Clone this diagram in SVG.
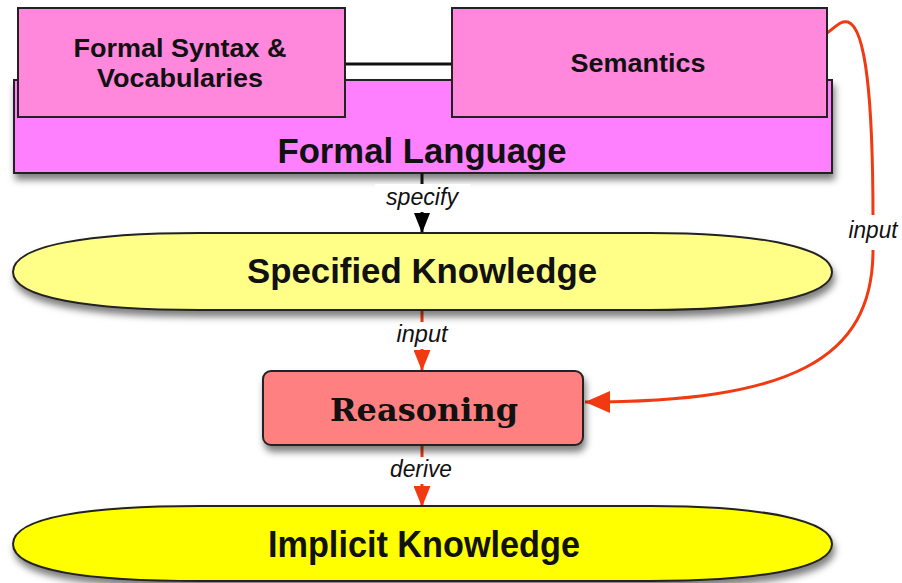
<svg xmlns="http://www.w3.org/2000/svg" width="902" height="583" viewBox="0 0 902 583">
<defs>
<filter id="sh" x="-10%" y="-20%" width="120%" height="160%">
<feDropShadow dx="2" dy="6" stdDeviation="3.5" flood-color="#000" flood-opacity="0.5"/>
</filter>
<marker id="ab" markerWidth="20" markerHeight="16" refX="20" refY="8" orient="auto" markerUnits="userSpaceOnUse" viewBox="0 0 20 16">
<path d="M0,0 L20,8 L0,16 Z" fill="#000"/>
</marker>
<marker id="ar" markerWidth="21" markerHeight="17" refX="21" refY="8.5" orient="auto" markerUnits="userSpaceOnUse" viewBox="0 0 21 17">
<path d="M0,0 L21,8.5 L0,17 Z" fill="#F23A12"/>
</marker>
<marker id="ar2" markerWidth="25" markerHeight="22" refX="25" refY="11" orient="auto" markerUnits="userSpaceOnUse" viewBox="0 0 25 22">
<path d="M0,0 L25,11 L0,22 Z" fill="#F23A12"/>
</marker>
<style>
.t{font-family:"Liberation Sans",Arial,sans-serif;font-weight:bold;fill:#111;text-anchor:middle}
.lbl{font-family:"Liberation Sans",Arial,sans-serif;font-style:italic;font-size:23px;fill:#111;text-anchor:middle}
.box{stroke:#222;stroke-width:2}
.red{stroke:#F23A12;stroke-width:3;fill:none}
</style>
</defs>

<g id="formal-language">
<rect class="box" x="14" y="80" width="818" height="93" fill="#FF80FF" filter="url(#sh)"/>
<text class="t" x="422" y="163" font-size="35" textLength="289" lengthAdjust="spacingAndGlyphs">Formal Language</text>
</g>

<g id="connectors">
<line x1="345" y1="64" x2="452" y2="64" stroke="#111" stroke-width="3"/>
<line x1="422" y1="173" x2="422" y2="233" stroke="#111" stroke-width="3" marker-end="url(#ab)"/>
<rect x="375" y="184" width="95" height="28" fill="#fff"/>
<text class="lbl" x="422" y="205" textLength="72" lengthAdjust="spacingAndGlyphs">specify</text>
<line class="red" x1="422" y1="311" x2="422" y2="371" marker-end="url(#ar)"/>
<rect x="387" y="322" width="73" height="27" fill="#fff"/>
<text class="lbl" x="422" y="342" textLength="51" lengthAdjust="spacingAndGlyphs">input</text>
<line class="red" x1="422" y1="446" x2="422" y2="507" marker-end="url(#ar)"/>
<rect x="380" y="457" width="85" height="27" fill="#fff"/>
<text class="lbl" x="421" y="477" textLength="62" lengthAdjust="spacingAndGlyphs">derive</text>
<path class="red" d="M827,33 C835,28 840,20 848,22 C866,28 873,100 873,220 L873,250 C873,360 790,402 585,402" marker-end="url(#ar2)"/>
<rect x="842" y="215" width="60" height="35" fill="#fff"/>
<text class="lbl" x="873" y="238" textLength="49" lengthAdjust="spacingAndGlyphs">input</text>
</g>

<g id="formal-syntax">
<rect class="box" x="18" y="8" width="327" height="109" fill="#FF88DD"/>
<text class="t" x="180" y="57" font-size="25" textLength="213" lengthAdjust="spacingAndGlyphs">Formal Syntax &amp;</text>
<text class="t" x="180" y="87" font-size="25" textLength="166" lengthAdjust="spacingAndGlyphs">Vocabularies</text>
</g>

<g id="semantics">
<rect class="box" x="452" y="8" width="375" height="109" fill="#FF88DD"/>
<text class="t" x="638" y="72" font-size="25" textLength="135" lengthAdjust="spacingAndGlyphs">Semantics</text>
</g>

<g id="specified-knowledge">
<path class="box" fill="#FFFF88" filter="url(#sh)" d="M13,272 C13,245 90,233 200,233 L650,233 C770,233 832,250 832,272 C832,294 770,310 650,310 L200,310 C90,310 13,298 13,272 Z"/>
<text class="t" x="422" y="283" font-size="35" textLength="350" lengthAdjust="spacingAndGlyphs">Specified Knowledge</text>
</g>

<g id="reasoning">
<rect class="box" x="263" y="371" width="320" height="74" rx="8" fill="#FF8080" filter="url(#sh)"/>
<text x="424" y="421" text-anchor="middle" font-family="'DejaVu Serif','Liberation Serif',serif" font-weight="bold" font-size="31" fill="#111" textLength="188" lengthAdjust="spacingAndGlyphs">Reasoning</text>
</g>

<g id="implicit-knowledge">
<path class="box" fill="#FFFF00" filter="url(#sh)" d="M13,544 C13,517 90,506 200,506 L650,506 C770,506 832,522 832,544 C832,566 770,581 650,581 L200,581 C90,581 13,571 13,544 Z"/>
<text class="t" x="424" y="557" font-size="36" textLength="312" lengthAdjust="spacingAndGlyphs">Implicit Knowledge</text>
</g>
</svg>
